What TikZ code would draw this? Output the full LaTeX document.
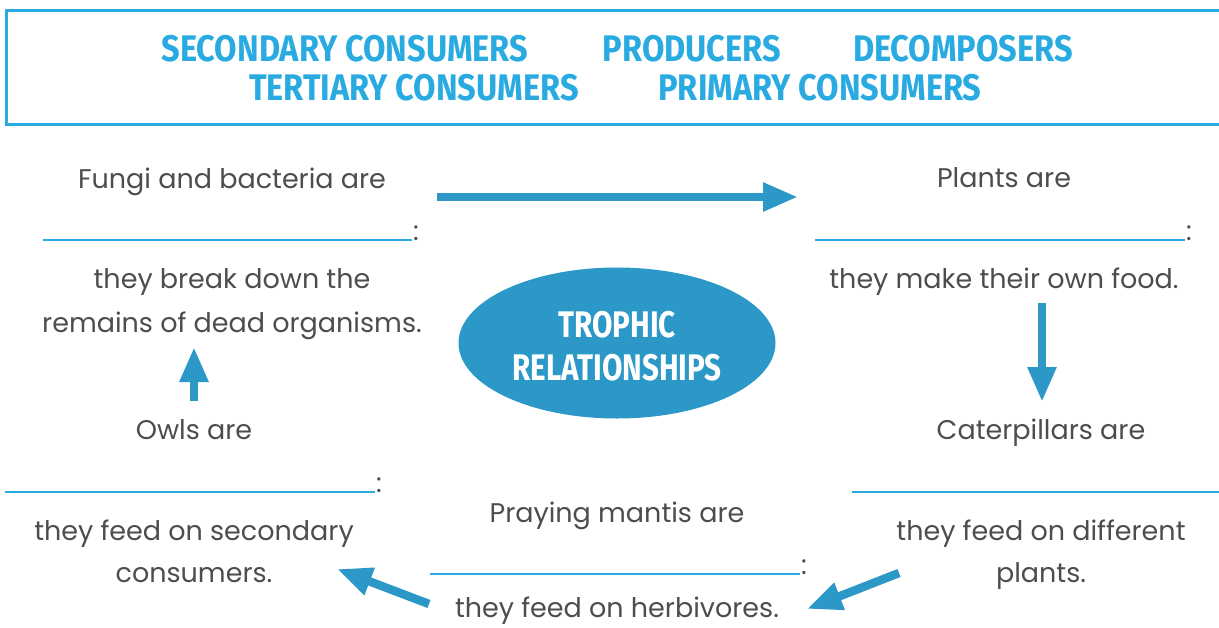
\documentclass[tikz,border=0pt]{standalone}
\usepackage{fontspec}
\setmainfont{Poppins}
\newfontfamily\headfont{Fira Sans}[FakeStretch=0.88]
\newfontfamily\ovalfont{Fira Sans}[FakeStretch=0.8]
\usepackage{xcolor}
\definecolor{trophblue}{RGB}{43, 152, 199}
\definecolor{trophline}{RGB}{41, 171, 226}
\definecolor{trophgray}{RGB}{77, 77, 77}
\usepackage{tikz}
\usetikzlibrary{
    shapes.geometric,
    arrows.meta,
    positioning
}

\begin{document}
\begin{tikzpicture}[x=1pt,y=-1pt,
    txt/.style={text=trophgray, font=\fontsize{27}{32}\selectfont, anchor=base, inner sep=0pt},
    head/.style={text=trophline, font=\headfont\bfseries\fontsize{37}{40}\selectfont, anchor=base, inner sep=0pt},
    oval/.style={text=white, font=\ovalfont\bfseries\fontsize{37}{40}\selectfont, anchor=base, inner sep=0pt},
    blank/.style={trophline, line width=2.6pt},
    flow/.style={trophblue, line width=8.5pt, -{Triangle[length=35pt,width=27pt]}}]
    \useasboundingbox (0,0) rectangle (1219,627);

    % Word bank
    \draw[trophline, line width=3pt] (6,10) rectangle (1230,124);
    \node[head] (secondary) at (345,61) {SECONDARY CONSUMERS};
    \node[head] (producers) at (692,61) {PRODUCERS};
    \node[head] (decomposers) at (963,61) {DECOMPOSERS};
    \node[head] (tertiary) at (414,100) {TERTIARY CONSUMERS};
    \node[head] (primary) at (820,100) {PRIMARY CONSUMERS};

    % Centre
    \node[ellipse, fill=trophblue, minimum width=317pt, minimum height=151pt, inner sep=0pt]
        (hub) at (617,343) {};
    \node[oval] (hubA) at (617,337) {TROPHIC};
    \node[oval] (hubB) at (617,380) {RELATIONSHIPS};

    % Blanks to fill in
    \foreach \xa/\xb/\yy/\nm in {43/412/240/fungi, 815/1185/240/plants, 5/375/492/owls, 430/800/574/mantis} {
        \draw[blank] (\xa,\yy) -- (\xb,\yy);
        \node[txt, anchor=base west] (colon-\nm) at (\xb+1,\yy) {:};
    }
    \draw[blank] (852,492) -- (1230,492);

    % Texts
    \node[txt] (fungi) at (232,188) {Fungi and bacteria are};
    \node[txt] (fungiA) at (232,288) {they break down the};
    \node[txt] (fungiB) at (232,332) {remains of dead organisms.};

    \node[txt] (plants) at (1004,187) {Plants are};
    \node[txt] (plantsA) at (1004,288) {they make their own food.};

    \node[txt] (cater) at (1041,439) {Caterpillars are};
    \node[txt] (caterA) at (1041,540) {they feed on different};
    \node[txt] (caterB) at (1041,582) {plants.};

    \node[txt] (mantis) at (617,522) {Praying mantis are};
    \node[txt] (mantisA) at (617,617) {they feed on herbivores.};

    \node[txt] (owls) at (194,439) {Owls are};
    \node[txt] (owlsA) at (194,540) {they feed on secondary};
    \node[txt] (owlsB) at (194,582) {consumers.};

    % Arrows
    \coordinate (decoOut) at (437,197);
    \coordinate (prodIn) at (798,197);
    \coordinate (prodOut) at (1042,303);
    \coordinate (primIn) at (1042,402);
    \coordinate (primOut) at (899,573);
    \coordinate (secIn) at (807,609);
    \coordinate (secOut) at (429,604);
    \coordinate (tertIn) at (337,569);
    \coordinate (tertOut) at (194,401);
    \coordinate (decoIn) at (194,347);

    \draw[flow] (decoOut) -- (prodIn);
    \draw[flow] (prodOut) -- (primIn);
    \draw[flow] (primOut) -- (secIn);
    \draw[flow] (secOut) -- (tertIn);
    \draw[flow] (tertOut) -- (decoIn);
\end{tikzpicture}
\end{document}
